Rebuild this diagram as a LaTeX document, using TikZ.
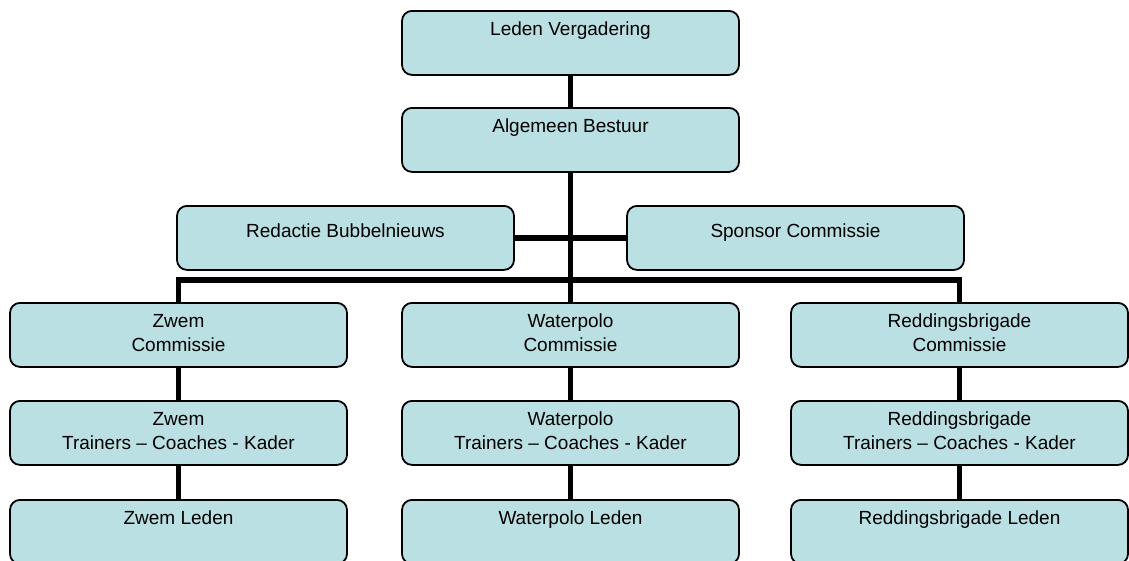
\documentclass[tikz,border=0pt]{standalone}
\usepackage{fontspec}
\setmainfont{Liberation Sans}
\usepackage{tikz}
\usetikzlibrary{calc,positioning}
\definecolor{boxfill}{HTML}{BBE0E3}

\begin{document}
\begin{tikzpicture}[x=1pt,y=-1pt]
    \newcommand*{\boxText}[1]{\parbox[t][64pt][t]{330pt}{\centering\fontsize{19}{24}\selectfont\rule{0pt}{25pt}#1}}
    \tikzstyle{org box}=[draw, line width=1.8pt, rounded corners=10pt, fill=boxfill, minimum width=337pt, minimum height=64pt, inner sep=0pt, anchor=north]
    \tikzstyle{side box}=[org box, font=\fontsize{19}{24}\selectfont, text height=9pt, text depth=9pt]
    \tikzstyle{org line}=[line width=5.8pt]

    \useasboundingbox (0,0) rectangle (1129,560);

    \node[org box] (leden) at (570.5,10) {\boxText{Leden Vergadering}};
    \node[org box] (bestuur) at (570.5,107) {\boxText{Algemeen Bestuur}};
    \node[side box] (redactie) at (345.5,205) {Redactie Bubbelnieuws};
    \node[side box] (sponsor) at (795.5,205) {Sponsor Commissie};

    \foreach \col/\x/\naam in {zwem/178.5/Zwem, waterpolo/570.5/Waterpolo, redding/959.5/Reddingsbrigade} {
      \node[org box] (\col-com) at (\x,302) {\boxText{\naam\\Commissie}};
      \node[org box] (\col-kader) at (\x,400) {\boxText{\naam\\Trainers -- Coaches - Kader}};
      \node[org box] (\col-leden) at (\x,499) {\boxText{\naam{} Leden}};
      \draw[org line] (\col-com) -- (\col-kader);
      \draw[org line] (\col-kader) -- (\col-leden);
    }

    \coordinate (bus) at (570.5,280);
    \draw[org line] (leden) -- (bestuur);
    \draw[org line] (bestuur) -- (waterpolo-com);
    \draw[org line] (redactie) -- (sponsor);
    \draw[org line] (zwem-com.north) |- (bus) -| (redding-com.north);
  \end{tikzpicture}
\end{document}
